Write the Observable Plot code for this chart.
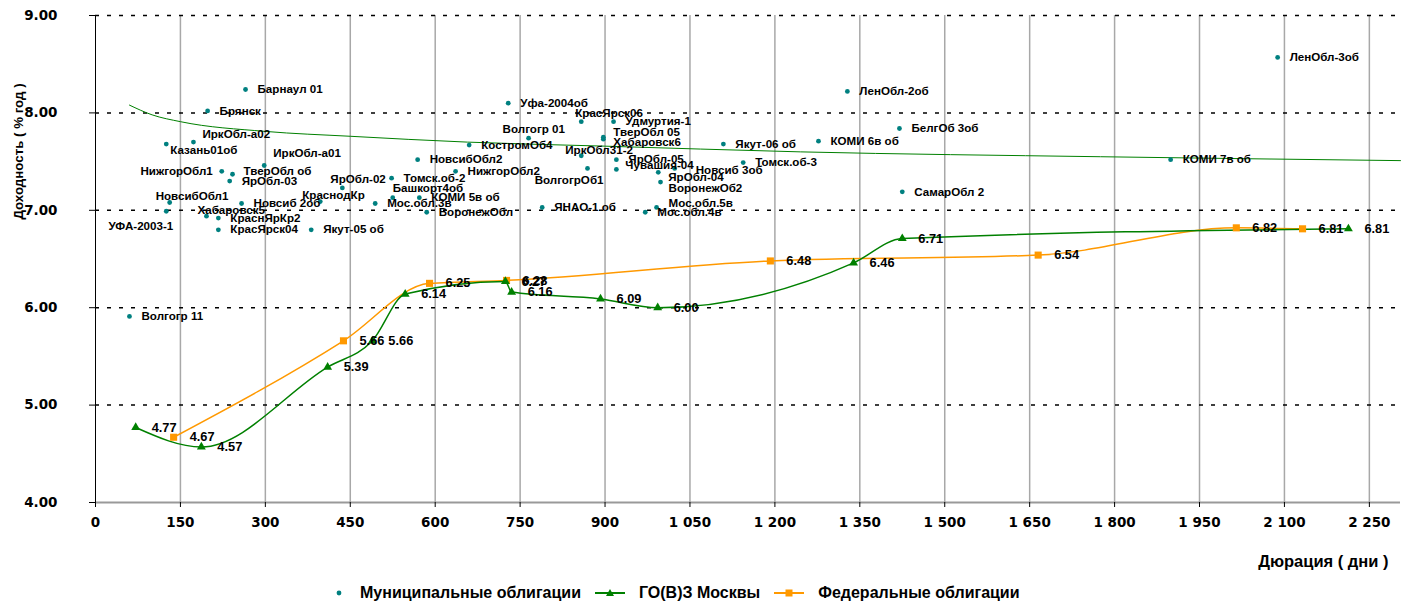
<!DOCTYPE html>
<html>
<head>
<meta charset="utf-8">
<script src="https://cdn.jsdelivr.net/npm/d3@7"></script>
<script src="https://cdn.jsdelivr.net/npm/@observablehq/plot@0.6"></script>
<style>
  html, body { margin: 0; padding: 0; background: #fff; }
  body { width: 1415px; height: 602px; position: relative; overflow: hidden; font-family: "Liberation Sans", Arial, sans-serif; }
  #legend { position: absolute; left: 333px; top: 585px; height: 16px; display: flex; align-items: center; font-weight: bold; font-size: 16px; color: #000; white-space: nowrap; line-height: 16px; }
  #legend svg { display: block; }
</style>
</head>
<body>
<div id="chart"></div>
<div id="legend"></div>
<script>
// ---- Data ----
const muniNames = ["Барнаул 01","Брянск","ИркОбл-а02","Казань01об","ИркОбл-а01","НижгорОбл1","ТверОбл об","ЯрОбл-03",
  "НовсибОбл1","Новсиб 2об","Хабаровск5","КраснЯрКр2","УФА-2003-1","КрасЯрск04","Якут-05 об","КраснодКр","ЯрОбл-02",
  "Томск.об-2","Башкорт4об","КОМИ 5в об","Мос.обл.3в","ВоронежОбл","НовсибОбл2","НижгорОбл2","КостромОб4","Уфа-2004об",
  "Волгогр 01","ЯНАО-1 об","КрасЯрск06","Удмуртия-1","ТверОбл 05","Хабаровск6","ИркОбл31-2","ВолгогрОб1","ЯрОбл-05",
  "Чувашия-04","Новсиб 3об","ЯрОбл-04","ВоронежОб2","Мос.обл.5в","Мос.обл.4в","Якут-06 об","Томск.об-3","ЛенОбл-2об",
  "КОМИ 6в об","БелгОб 3об","СамарОбл 2","ЛенОбл-3об","КОМИ 7в об","Волгогр 11"];
const muniDur = [265,198,173,125,298,223,242,237,
  131,258,196,217,125,217,381,397,436,
  523,525,572,494,585,569,636,660,729,
  765,789,858,915,897,897,858,869,920,
  920,1023,994,998,991,971,1109,1144,1328,
  1277,1420,1425,2088,1899,60];
const muniYield = [8.24,8.02,7.70,7.68,7.46,7.40,7.37,7.30,
  7.08,7.07,6.94,6.92,6.99,6.80,6.80,7.09,7.23,
  7.33,7.13,7.13,7.07,6.98,7.52,7.40,7.67,8.10,
  7.74,7.03,7.91,7.91,7.75,7.73,7.56,7.43,7.52,
  7.42,7.43,7.39,7.29,7.03,6.98,7.68,7.49,8.22,
  7.71,7.84,7.19,8.57,7.52,5.91];

const goDur   = [71,187,410,489,547,724,735,892,993,1339,1425,2213];
const goYield = [4.77,4.57,5.39,5.66,6.14,6.27,6.16,6.09,6.00,6.46,6.71,6.81];

const fedDur   = [138,438,590,726,1192,1665,2015,2132];
const fedYield = [4.67,5.66,6.25,6.28,6.48,6.54,6.82,6.81];

// trend line of municipal bonds
const trendDur   = [60,100,150,300,450,657,892,1245,1775,2305];
const trendYield = [8.08,7.98,7.91,7.81,7.76,7.70,7.66,7.60,7.55,7.51];

const xTicks = [0,150,300,450,600,750,900,1050,1200,1350,1500,1650,1800,1950,2100,2250];
const yTicks = [4,5,6,7,8,9];

const seriesNames = ["Муниципальные облигации","ГО(В)З Москвы","Федеральные облигации"];
const yTitle = "Доходность ( % год )";
const xTitle = "Дюрация ( дни )";

// ---- Tables ----
const muni = muniNames.map((n,i) => ({name:n, x:muniDur[i], y:muniYield[i]}));
const go = goDur.map((x,i) => ({x, y:goYield[i]}));
const fed = fedDur.map((x,i) => ({x, y:fedYield[i]}));
const trend = trendDur.map((x,i) => ({x, y:trendYield[i]}));

// label placement (layout only): [dx, dy, anchor]
const labelPlace = {
  "ИркОбл-а02":[9,-8,"start"], "Казань01об":[4,6,"start"], "ИркОбл-а01":[9,-12,"start"],
  "НижгорОбл1":[-9,0,"end"], "НовсибОбл1":[-14,-6,"start"], "Хабаровск5":[-9,-6,"start"],
  "УФА-2003-1":[7,15,"end"], "КраснодКр":[-18,-6,"start"], "ЯрОбл-02":[-12,-9,"start"],
  "Башкорт4об":[0,-9,"start"], "Волгогр 01":[-26,-9,"start"], "КрасЯрск06":[-6,-8,"start"],
  "ТверОбл 05":[10,-5,"start"], "Хабаровск6":[10,3,"start"], "ИркОбл31-2":[-16,-5,"start"],
  "ВолгогрОб1":[16,12,"end"], "Чувашия-04":[9,-4,"start"], "ЯрОбл-04":[10,5,"start"],
  "ВоронежОб2":[8,6,"start"], "Мос.обл.5в":[12,-4,"start"], "Мос.обл.4в":[12,0,"start"],
  "Новсиб 3об":[21,2,"start"], "ТверОбл об":[11,-3,"start"]
};

const fmtX = d => d < 1000 ? String(d) : Math.floor(d/1000) + " " + String(d % 1000).padStart(3, "0");

const GREEN = "#008000", ORANGE = "#FF9900", TEAL = "#008080";
const FONT = "'Liberation Sans', Arial, sans-serif";
const TICKFONT = "'DejaVu Sans', 'Liberation Sans', Arial, sans-serif";
const labelSize = 11.6, valueSize = 12.8;

const marks = [
  Plot.gridX(xTicks.filter(d => d > 0), {stroke: "#a8a8a8", strokeOpacity: 1, strokeWidth: 1.5}),
  Plot.gridY(yTicks.filter(d => d > 4), {stroke: "#000", strokeOpacity: 1, strokeWidth: 1.5, strokeDasharray: "4,8"}),
  Plot.ruleY([4], {stroke: "#999", strokeWidth: 2}),
  Plot.ruleX([0], {stroke: "#000", strokeWidth: 1}),
  Plot.axisY({ticks: yTicks, tickFormat: d => d.toFixed(2), tickSize: 6, tickPadding: 32, fontSize: 13.5, fontFamily: TICKFONT, label: null}),
  Plot.axisX({ticks: xTicks, tickFormat: fmtX, tickSize: 5, tickPadding: 10, fontSize: 13.5, fontFamily: TICKFONT, label: null}),
  Plot.line(trend, {x: "x", y: "y", stroke: GREEN, strokeWidth: 1, curve: "monotone-x"}),
  Plot.line(fed, {x: "x", y: "y", stroke: ORANGE, strokeWidth: 1.5, curve: "monotone-x"}),
  Plot.line(go, {x: "x", y: "y", stroke: GREEN, strokeWidth: 1.5, curve: "monotone-x"}),
  Plot.dot(fed, {x: "x", y: "y", symbol: "square", r: 4, fill: ORANGE}),
  Plot.dot(go, {x: "x", y: "y", symbol: "triangle", r: 3.3, fill: GREEN}),
  Plot.dot(muni, {x: "x", y: "y", r: 2.4, fill: TEAL}),
  Plot.text(muni.filter(d => !(d.name in labelPlace)), {x: "x", y: "y", text: "name", dx: 12, textAnchor: "start", fontSize: labelSize, fill: "#000"}),
  ...Object.entries(labelPlace).map(([n, [dx, dy, a]]) =>
    Plot.text(muni.filter(d => d.name === n), {x: "x", y: "y", text: "name", dx, dy, textAnchor: a, fontSize: labelSize, fill: "#000"})),
  Plot.text(go, {x: "x", y: "y", text: d => d.y.toFixed(2), dx: 16, textAnchor: "start", fontSize: valueSize, fill: "#000"}),
  Plot.text(fed, {x: "x", y: "y", text: d => d.y.toFixed(2), dx: 16, textAnchor: "start", fontSize: valueSize, fill: "#000"}),
  Plot.text([xTitle], {frameAnchor: "bottom-right", dx: -12, dy: 64, textAnchor: "end", fontSize: 16.5}),
  Plot.text([yTitle], {frameAnchor: "top-left", rotate: -90, dx: -82, dy: 136, textAnchor: "middle", fontSize: 13.3})
];

const chart = Plot.plot({
  width: 1415, height: 578,
  marginLeft: 95, marginRight: 15, marginTop: 15, marginBottom: 76,
  x: {domain: [0, 2305]},
  y: {domain: [4, 9]},
  style: {fontFamily: FONT, fontWeight: "bold", background: "#fff", overflow: "visible", color: "#000"},
  marks
});
document.getElementById("chart").appendChild(chart);

// ---- Legend ----
const legend = document.getElementById("legend");
const sw = [
  `<svg width="12" height="16"><circle cx="6" cy="8" r="2.4" fill="${TEAL}"/></svg>`,
  `<svg width="30" height="16"><line x1="0" y1="8" x2="30" y2="8" stroke="${GREEN}" stroke-width="2"/><path d="M15,4 L19,11 L11,11 Z" fill="${GREEN}"/></svg>`,
  `<svg width="30" height="16"><line x1="0" y1="8" x2="30" y2="8" stroke="${ORANGE}" stroke-width="2"/><rect x="11.5" y="4.5" width="7" height="7" fill="${ORANGE}"/></svg>`
];
seriesNames.forEach((n, i) => {
  const s = document.createElement("div");
  s.style.marginLeft = (i === 0 ? 0 : 14) + "px";
  s.innerHTML = sw[i];
  legend.appendChild(s);
  const t = document.createElement("div");
  t.style.marginLeft = (i === 0 ? 15 : 14) + "px";
  t.textContent = n;
  legend.appendChild(t);
});
</script>
</body>
</html>
